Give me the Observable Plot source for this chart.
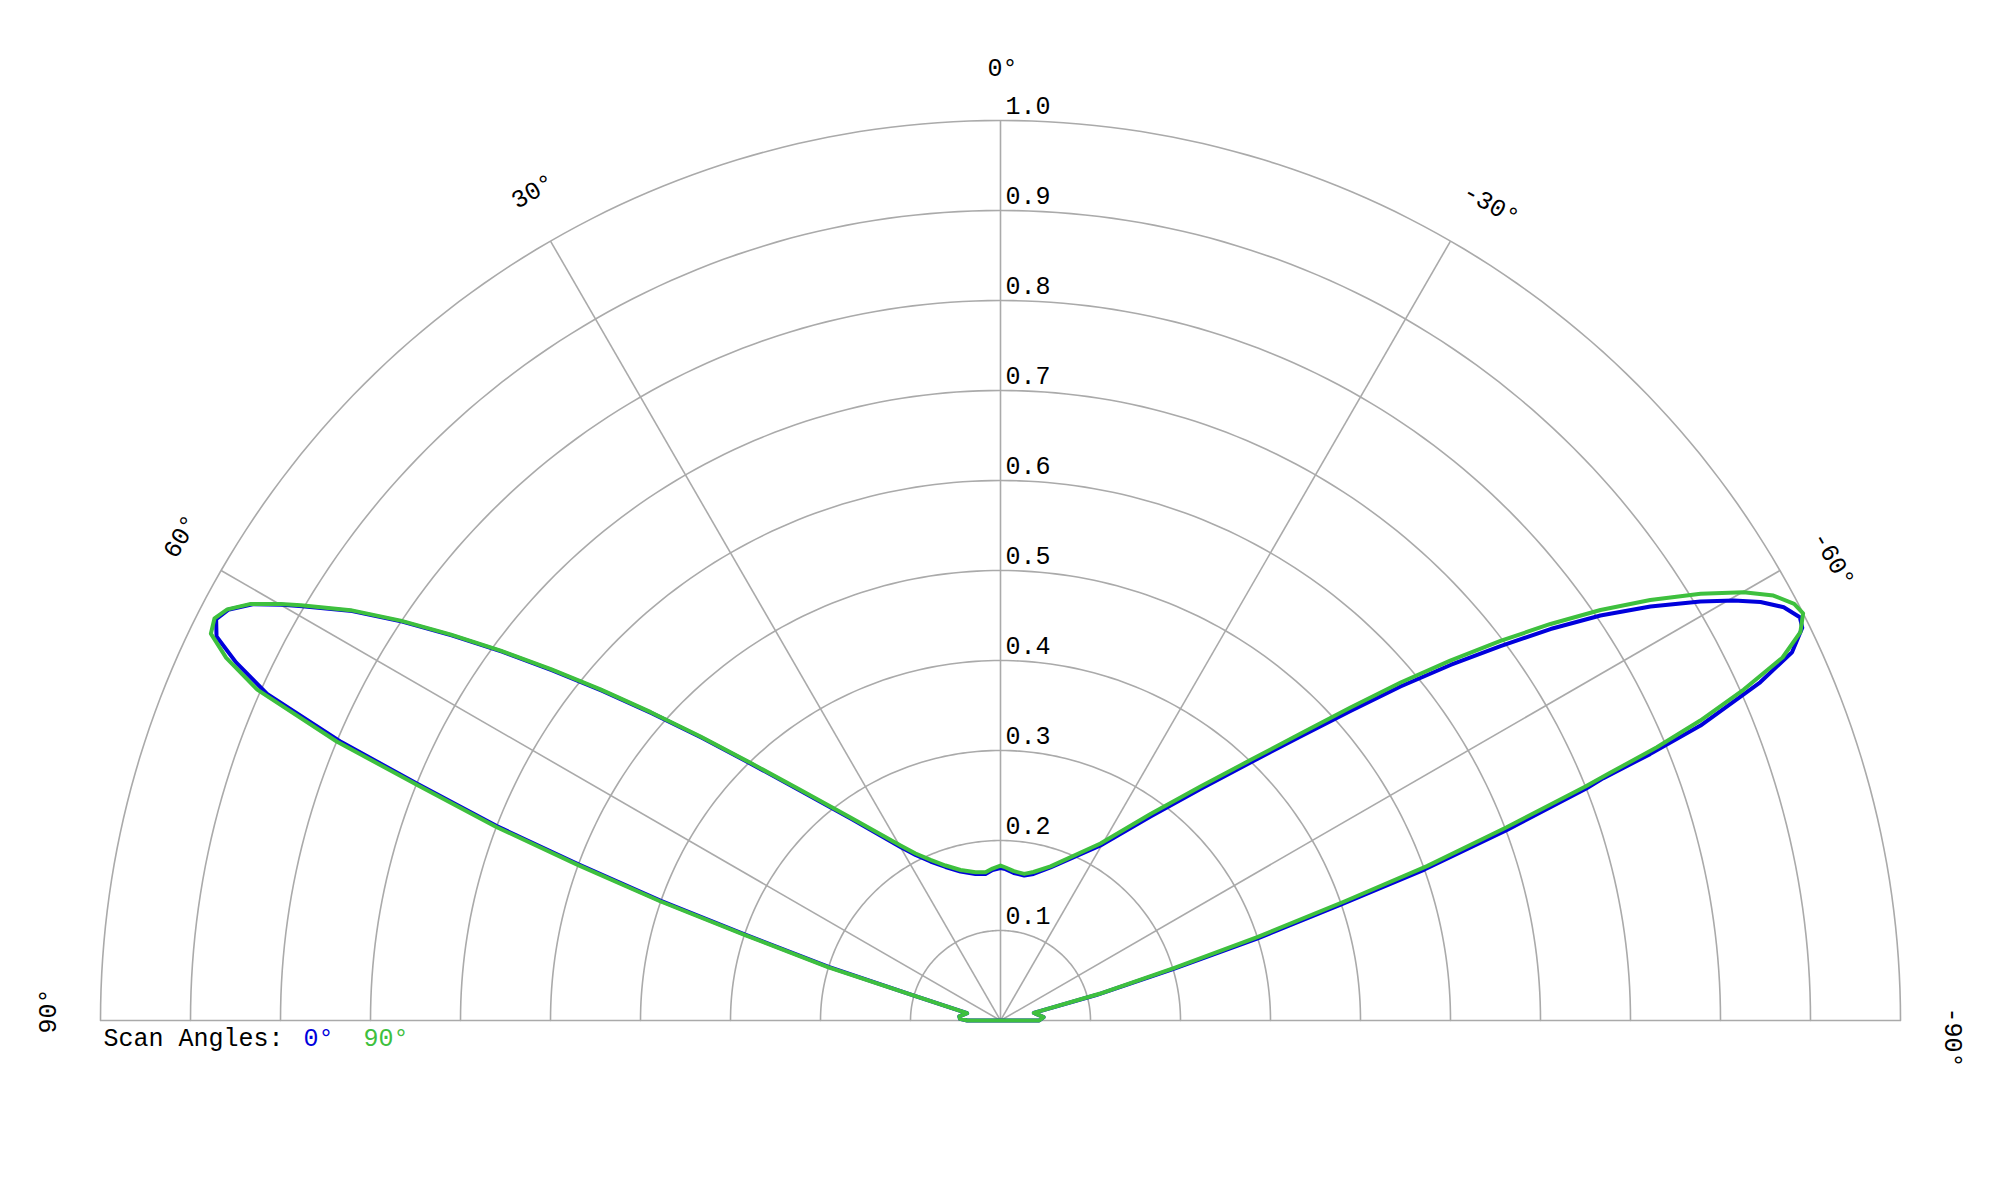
<!DOCTYPE html>
<html>
<head>
<meta charset="utf-8">
<script src="https://cdn.jsdelivr.net/npm/d3@7"></script>
<script src="https://cdn.jsdelivr.net/npm/@observablehq/plot@0.6"></script>
<style>
  html, body { margin: 0; padding: 0; background: #fff; }
  #chart svg { display: block; }
</style>
</head>
<body>
<div id="chart"></div>
<script>
// ---- data (angle in degrees, positive = left; value = normalized gain) ----
const seriesNames = ["0°", "90°"];
const seriesColors = ["#0000dc", "#3ec03e"];

// Scan angle 0° (blue)
const angles0 = [90, 87.6, 84.4, 77.6, 74.0, 72.7, 71.4, 70.6, 69.7, 68.9, 67.9, 67.1, 66.0, 64.9, 63.9, 62.9, 62.0, 60.9, 59.94, 59.31, 57.73, 56.31, 54.94, 53.5, 52.0, 50.39, 48.6, 46.57, 44.15, 40.95, 36.46, 29.96, 27.18, 23.76, 19.71, 15.03, 9.68, 5.84, 3.04, 0, -1.9, -5.15, -9.28, -12.7, -18.1, -29.74, -36.33, -40.82, -44.1, -46.57, -48.52, -50.14, -51.69, -53.17, -54.56, -55.98, -57.5, -59.09, -60.2, -61.16, -62.18, -63.23, -63.9, -65.05, -66.0, -67.15, -67.7, -68.1, -68.4, -69.4, -70.4, -71.2, -72.3, -73.4, -75.1, -77.1, -85.6, -90];
const values0 = [0.037, 0.045, 0.046, 0.038, 0.100, 0.200, 0.300, 0.400, 0.500, 0.600, 0.700, 0.795, 0.892, 0.938, 0.970, 0.979, 0.972, 0.951, 0.922, 0.902, 0.852, 0.799, 0.745, 0.689, 0.632, 0.575, 0.516, 0.457, 0.397, 0.337, 0.2785, 0.2225, 0.2067, 0.193, 0.1812, 0.1714, 0.1651, 0.1637, 0.1675, 0.1694, 0.1683, 0.1645, 0.1633, 0.1669, 0.1789, 0.224, 0.2813, 0.3399, 0.3992, 0.459, 0.5191, 0.579, 0.6372, 0.6941, 0.7501, 0.8043, 0.8563, 0.9065, 0.939, 0.964, 0.984, 0.9948, 0.992, 0.970, 0.924, 0.844, 0.780, 0.722, 0.700, 0.600, 0.500, 0.400, 0.300, 0.200, 0.110, 0.038, 0.048, 0.043];

// Scan angle 90° (green)
const angles90 = [90, 87.6, 84.4, 77.6, 74.0, 72.8, 71.5, 70.7, 69.8, 69.0, 68.0, 67.2, 66.0, 64.9, 63.9, 62.9, 62.0, 60.94, 59.94, 59.31, 57.73, 56.31, 54.94, 53.5, 52.0, 50.39, 48.6, 46.57, 44.15, 40.95, 36.46, 29.74, 26.97, 23.56, 19.54, 14.88, 9.58, 5.78, 3.01, 0, -1.9, -5.1, -9.2, -12.53, -17.99, -29.46, -36.0, -40.52, -43.82, -46.27, -48.2, -49.81, -51.34, -52.8, -54.21, -55.62, -57.09, -58.64, -60.05, -61.2, -62.3, -63.1, -64.1, -65.1, -66.0, -66.8, -67.4, -67.9, -68.2, -69.1, -70.1, -70.9, -72.0, -73.15, -74.9, -77.1, -85.6, -90];
const values90 = [0.037, 0.045, 0.046, 0.038, 0.100, 0.200, 0.300, 0.400, 0.500, 0.600, 0.700, 0.800, 0.904, 0.950, 0.977, 0.981, 0.973, 0.953, 0.924, 0.904, 0.854, 0.801, 0.747, 0.691, 0.634, 0.577, 0.518, 0.459, 0.399, 0.339, 0.2805, 0.224, 0.2082, 0.1946, 0.1827, 0.173, 0.167, 0.1656, 0.1691, 0.1722, 0.1701, 0.1666, 0.165, 0.169, 0.180, 0.2259, 0.2836, 0.342, 0.401, 0.461, 0.5217, 0.582, 0.640, 0.6975, 0.7534, 0.8078, 0.860, 0.911, 0.953, 0.980, 0.996, 1.000, 0.988, 0.958, 0.904, 0.846, 0.790, 0.730, 0.700, 0.602, 0.504, 0.405, 0.300, 0.202, 0.114, 0.038, 0.048, 0.043];

// grid
const ringValues = [0.1, 0.2, 0.3, 0.4, 0.5, 0.6, 0.7, 0.8, 0.9, 1.0];
const spokeAngles = [90, 60, 30, 0, -30, -60, -90];
const legendTitle = "Scan Angles:";

// ---- geometry helpers ----
const W = 2000, H = 1200;
const R = 900, CX = 1000, CY = 1020; // pixels per unit and origin
const rad = a => a * Math.PI / 180;
const px = (a, r) => -r * Math.sin(rad(a));
const py = (a, r) => r * Math.cos(rad(a));

const series = [
  {name: seriesNames[0], color: seriesColors[0], pts: angles0.map((a, i) => ({a, r: values0[i]}))},
  {name: seriesNames[1], color: seriesColors[1], pts: angles90.map((a, i) => ({a, r: values90[i]}))}
];

const ringPts = ringValues.flatMap(r => d3.range(-90, 90.5, 1).map(a => ({r, a})));
const font = "'Liberation Mono', 'DejaVu Sans Mono', monospace";
const labelR = 1.058, labelShift = 13 / R;

const chart = Plot.plot({
  width: W,
  height: H,
  margin: 0,
  x: {domain: [-CX / R, (W - CX) / R], range: [0, W], axis: null},
  y: {domain: [(CY - H) / R, CY / R], range: [H, 0], axis: null},
  style: {fontFamily: font, background: "#fff"},
  marks: [
    Plot.line(ringPts, {x: d => px(d.a, d.r), y: d => py(d.a, d.r), z: "r", stroke: "#aaaaaa", strokeWidth: 1.6}),
    Plot.link(spokeAngles, {x1: () => 0, y1: () => 0, x2: a => px(a, 1), y2: a => py(a, 1), stroke: "#aaaaaa", strokeWidth: 1.6}),
    Plot.text(ringValues, {x: () => 0, y: d => d, text: d => d.toFixed(1), textAnchor: "start", lineAnchor: "bottom", dx: 5, dy: -7, fontSize: 25, fill: "#000"}),
    Plot.text(spokeAngles, {
      x: a => px(a, labelR) - labelShift * Math.cos(rad(a)),
      y: a => py(a, labelR) - labelShift * Math.sin(rad(a)),
      text: a => `${a}°`, rotate: a => -a,
      textAnchor: "start", lineAnchor: "middle", fontSize: 25, fill: "#000"
    }),
    ...series.map(s => Plot.line(s.pts, {x: d => px(d.a, d.r), y: d => py(d.a, d.r), stroke: s.color, strokeWidth: 4, curve: "linear-closed", strokeLinejoin: "round"})),
    Plot.text([legendTitle], {x: () => -1, y: () => 0, text: d => d, textAnchor: "start", lineAnchor: "bottom", dx: 3, dy: 25, fontSize: 25, fill: "#000"}),
    Plot.text([series[0]], {x: () => -1, y: () => 0, text: d => d.name, textAnchor: "start", lineAnchor: "bottom", dx: 203, dy: 25, fontSize: 25, fill: seriesColors[0]}),
    Plot.text([series[1]], {x: () => -1, y: () => 0, text: d => d.name, textAnchor: "start", lineAnchor: "bottom", dx: 263, dy: 25, fontSize: 25, fill: seriesColors[1]})
  ]
});
document.getElementById("chart").appendChild(chart);
</script>
</body>
</html>
